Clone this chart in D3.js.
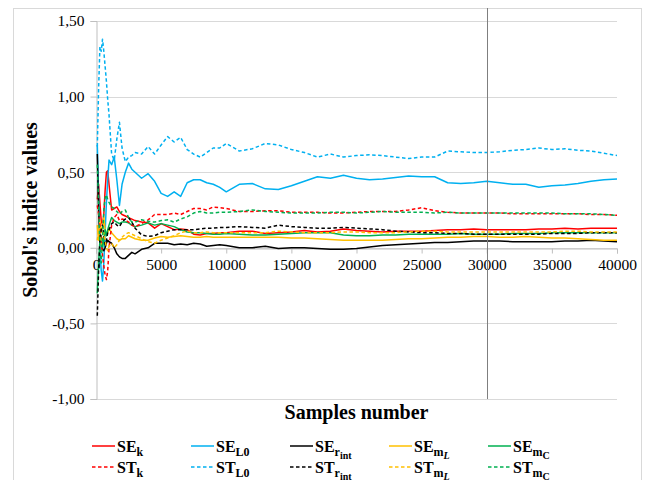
<!DOCTYPE html>
<html>
<head>
<meta charset="utf-8">
<script src="https://cdn.jsdelivr.net/npm/d3@7"></script>
<style>
  body { margin: 0; background: #fff; }
  svg { display: block; }
  svg text { font-family: "Liberation Serif", "Times New Roman", serif; }
</style>
</head>
<body>
<script>
// samples number (x values)
var samples = [100,200,300,400,500,600,700,800,900,1000,1200,1400,1600,1800,2000,2250,2500,2750,3000,
  3500,4000,4500,5000,5500,6000,6500,7000,7500,8000,8500,9000,9500,10000,
  11000,12000,13000,14000,15000,16000,17000,18000,19000,20000,21000,22000,23000,24000,25000,
  26000,27000,28000,29000,30000,31000,32000,33000,34000,35000,36000,37000,38000,39000,40000];

// first order indices (SE)
var seK = [0.32,0.42,0.30,0.18,0.15,0.22,0.38,0.50,0.51,0.42,0.25,0.26,0.27,0.24,0.22,0.21,0.20,0.19,0.18,
  0.17,0.165,0.13,0.16,0.14,0.12,0.125,0.12,0.09,0.085,0.095,0.095,0.10,0.10,
  0.11,0.11,0.095,0.10,0.105,0.115,0.105,0.11,0.125,0.115,0.11,0.105,0.11,0.11,0.11,
  0.115,0.12,0.12,0.125,0.12,0.12,0.12,0.12,0.125,0.125,0.13,0.125,0.13,0.13,0.13];
var seL0 = [0.68,0.35,0.0,-0.15,-0.22,-0.10,0.10,0.30,0.45,0.58,0.55,0.60,0.45,0.28,0.42,0.50,0.56,0.52,0.50,
  0.46,0.49,0.44,0.36,0.34,0.37,0.34,0.43,0.45,0.45,0.43,0.42,0.40,0.37,
  0.42,0.425,0.39,0.385,0.41,0.44,0.47,0.46,0.48,0.46,0.45,0.455,0.465,0.475,0.47,
  0.47,0.43,0.425,0.43,0.44,0.43,0.42,0.42,0.40,0.41,0.415,0.425,0.44,0.45,0.455];
var seRint = [0.62,0.25,0.05,0.05,-0.01,-0.02,0.0,0.03,0.05,0.04,0.03,0.0,-0.04,-0.06,-0.07,-0.07,-0.05,-0.03,-0.04,
  -0.01,0.0,0.03,0.03,0.03,0.02,0.025,0.02,0.03,0.025,0.01,0.015,0.02,0.015,
  0.0,0.0,0.01,-0.005,0.0,0.0,-0.005,-0.01,-0.01,-0.005,0.005,0.015,0.02,0.025,0.03,
  0.035,0.035,0.04,0.045,0.045,0.045,0.04,0.04,0.04,0.04,0.045,0.045,0.05,0.045,0.04];
var seML = [0.15,0.05,0.18,0.10,0.14,0.20,0.12,0.08,0.10,0.13,0.10,0.08,0.06,0.05,0.06,0.06,0.08,0.07,0.06,
  0.05,0.05,0.065,0.075,0.07,0.075,0.08,0.075,0.07,0.07,0.075,0.07,0.07,0.07,
  0.07,0.07,0.07,0.07,0.065,0.065,0.06,0.055,0.05,0.05,0.05,0.05,0.055,0.06,0.06,
  0.065,0.07,0.07,0.075,0.075,0.07,0.07,0.075,0.07,0.065,0.065,0.06,0.055,0.05,0.05];
var seMC = [-0.30,-0.10,0.05,0.08,0.0,0.05,0.12,0.08,0.12,0.15,0.20,0.18,0.17,0.16,0.17,0.17,0.165,0.15,0.14,
  0.15,0.165,0.15,0.16,0.15,0.14,0.12,0.105,0.10,0.10,0.095,0.09,0.09,0.095,
  0.09,0.085,0.085,0.09,0.095,0.10,0.10,0.10,0.085,0.08,0.08,0.085,0.085,0.09,0.09,
  0.09,0.09,0.095,0.09,0.09,0.09,0.095,0.095,0.095,0.10,0.10,0.10,0.10,0.10,0.10];

// total indices (ST)
var stK = [0.28,0.22,0.15,0.05,-0.05,-0.12,-0.18,-0.21,-0.15,0.0,0.15,0.20,0.22,0.18,0.19,0.185,0.17,0.15,0.14,
  0.16,0.185,0.22,0.22,0.22,0.23,0.22,0.24,0.26,0.26,0.25,0.27,0.265,0.26,
  0.24,0.24,0.245,0.245,0.235,0.235,0.235,0.23,0.23,0.235,0.24,0.24,0.24,0.25,0.265,
  0.245,0.235,0.23,0.23,0.23,0.23,0.225,0.225,0.225,0.225,0.225,0.225,0.22,0.22,0.215];
var stL0 = [0.67,1.05,1.33,1.30,1.38,1.30,1.20,1.10,0.98,0.88,0.62,0.58,0.72,0.83,0.66,0.57,0.60,0.61,0.63,
  0.62,0.67,0.62,0.68,0.735,0.70,0.73,0.65,0.62,0.60,0.63,0.66,0.66,0.69,
  0.64,0.655,0.69,0.68,0.65,0.63,0.60,0.62,0.60,0.61,0.615,0.61,0.60,0.59,0.60,
  0.60,0.64,0.635,0.63,0.63,0.635,0.645,0.65,0.66,0.65,0.655,0.645,0.64,0.625,0.61];
var stRint = [-0.45,-0.15,0.05,0.12,0.15,0.08,0.02,0.05,0.10,0.12,0.16,0.17,0.15,0.14,0.17,0.19,0.20,0.17,0.13,
  0.085,0.075,0.08,0.10,0.11,0.12,0.12,0.12,0.12,0.125,0.13,0.13,0.135,0.135,
  0.14,0.135,0.13,0.15,0.14,0.135,0.13,0.13,0.135,0.13,0.125,0.12,0.11,0.105,0.10,
  0.10,0.095,0.095,0.09,0.09,0.09,0.09,0.09,0.09,0.095,0.095,0.095,0.10,0.10,0.10];
var stML = [0.05,0.12,0.08,0.02,0.06,0.10,0.05,0.0,-0.02,0.01,0.03,0.0,0.02,0.05,0.07,0.09,0.10,0.09,0.08,
  0.06,0.04,0.03,0.05,0.065,0.08,0.10,0.11,0.10,0.10,0.105,0.10,0.10,0.10,
  0.10,0.10,0.10,0.11,0.105,0.10,0.10,0.10,0.105,0.105,0.10,0.10,0.10,0.105,0.11,
  0.11,0.105,0.105,0.105,0.105,0.105,0.105,0.105,0.105,0.105,0.11,0.11,0.105,0.105,0.105];
var stMC = [0.55,0.30,0.0,-0.10,0.05,0.25,0.33,0.35,0.32,0.30,0.27,0.26,0.24,0.22,0.24,0.25,0.20,0.17,0.17,
  0.185,0.175,0.17,0.18,0.185,0.17,0.19,0.205,0.23,0.24,0.23,0.23,0.235,0.235,
  0.24,0.25,0.24,0.235,0.23,0.23,0.23,0.235,0.235,0.23,0.235,0.24,0.235,0.235,0.235,
  0.23,0.235,0.23,0.23,0.23,0.23,0.23,0.23,0.23,0.23,0.225,0.225,0.225,0.22,0.215];

// tick values
var yTicks = [-1, -0.5, 0, 0.5, 1, 1.5];
var xTicks = [0, 5000, 10000, 15000, 20000, 25000, 30000, 35000, 40000];
var markerSample = 30000;

// legend labels: base text and subscripts (level 1 = subscript, level 2 = sub-subscript)
var subK   = [["k", 1]];
var subL0  = [["L", 1], ["0", 1]];
var subRint = [["r", 1], ["int", 2]];
var subML  = [["m", 1], ["L", 2, "italic"]];
var subMC  = [["m", 1], ["C", 2]];

var series = [
  {base: "SE", sub: subK,    values: seK,    color: "#FF0000", dashed: false},
  {base: "SE", sub: subL0,   values: seL0,   color: "#00B0F0", dashed: false},
  {base: "SE", sub: subRint, values: seRint, color: "#000000", dashed: false},
  {base: "SE", sub: subML,   values: seML,   color: "#FFC000", dashed: false},
  {base: "SE", sub: subMC,   values: seMC,   color: "#00B050", dashed: false},
  {base: "ST", sub: subK,    values: stK,    color: "#FF0000", dashed: true},
  {base: "ST", sub: subL0,   values: stL0,   color: "#00B0F0", dashed: true},
  {base: "ST", sub: subRint, values: stRint, color: "#000000", dashed: true},
  {base: "ST", sub: subML,   values: stML,   color: "#FFC000", dashed: true},
  {base: "ST", sub: subMC,   values: stMC,   color: "#00B050", dashed: true}
];

var serif = "'Liberation Serif', 'Times New Roman', serif";

var svg = d3.select("body").append("svg").attr("width", 646).attr("height", 480);

// outer chart frame
svg.append("rect")
    .attr("x", 13.5).attr("y", 8.5).attr("width", 628).attr("height", 480)
    .attr("fill", "none").attr("stroke", "#d9d9d9");

var x = d3.scaleLinear().domain([0, 40000]).range([96, 617]);
var y = d3.scaleLinear().domain([-1, 1.5]).range([399, 21]);

// horizontal gridlines
svg.append("g")
  .selectAll("line")
  .data(yTicks)
  .enter().append("line")
    .attr("x1", x(0)).attr("x2", x(40000))
    .attr("y1", function(d) { return Math.round(y(d)) + 0.5; })
    .attr("y2", function(d) { return Math.round(y(d)) + 0.5; })
    .attr("stroke", "#d9d9d9").attr("stroke-width", 1);

// y axis
var yAxis = svg.append("g")
    .attr("transform", "translate(" + (x(0) + 0.5) + ",0)")
    .call(d3.axisLeft(y).tickValues(yTicks).tickSize(6).tickPadding(6)
      .tickFormat(function(d) { return d.toFixed(2).replace(".", ","); }));
yAxis.attr("font-family", serif).attr("font-size", 15);
yAxis.selectAll("text").style("font-family", serif).style("font-size", "15.5px").attr("fill", "#000");
yAxis.selectAll("line").attr("stroke", "#bfbfbf");
yAxis.select(".domain").attr("stroke", "#bfbfbf");

// x axis crossing at 0
var xAxis = svg.append("g")
    .attr("transform", "translate(0," + (Math.round(y(0)) + 0.5) + ")")
    .call(d3.axisBottom(x).tickValues(xTicks).tickSize(5).tickPadding(5)
      .tickFormat(function(d) { return String(d); }));
xAxis.attr("font-family", serif).attr("font-size", 15);
xAxis.selectAll("text").style("font-family", serif).style("font-size", "15.5px").attr("fill", "#000");
xAxis.selectAll("line").attr("stroke", "#bfbfbf");
xAxis.select(".domain").attr("stroke", "#bfbfbf");

// series lines
var line = d3.line()
    .x(function(d) { return x(d[0]); })
    .y(function(d) { return y(d[1]); });

series.forEach(function(s) {
  svg.append("path")
      .datum(samples.map(function(v, i) { return [v, s.values[i]]; }))
      .attr("fill", "none")
      .attr("stroke", s.color)
      .attr("stroke-width", 1.5)
      .attr("stroke-linejoin", "round")
      .attr("stroke-dasharray", s.dashed ? "3.5,2.5" : null)
      .attr("d", line);
});

// vertical marker at 30000
svg.append("line")
    .attr("x1", Math.round(x(markerSample)) + 0.5).attr("x2", Math.round(x(markerSample)) + 0.5)
    .attr("y1", 8).attr("y2", 399)
    .attr("stroke", "#7f7f7f").attr("stroke-width", 1);

// axis titles
svg.append("text")
    .attr("x", x(20000)).attr("y", 419)
    .attr("text-anchor", "middle")
    .style("font-family", serif)
    .style("font-size", "20px").style("font-weight", "bold")
    .text("Samples number");

svg.append("text")
    .attr("transform", "translate(37,210) rotate(-90)")
    .attr("text-anchor", "middle")
    .style("font-family", serif)
    .style("font-size", "20px").style("font-weight", "bold")
    .text("Sobol's indice values");

// legend
var legendX = [92, 191, 290, 389, 488];
var legendY = [446, 467];
var shift = [0, 4, 7];
var fontSize = [16, 12, 10];

series.forEach(function(s, i) {
  var lx = legendX[i % 5], ly = legendY[Math.floor(i / 5)];
  svg.append("line")
      .attr("x1", lx).attr("x2", lx + 23)
      .attr("y1", ly).attr("y2", ly)
      .attr("stroke", s.color).attr("stroke-width", 1.5)
      .attr("stroke-dasharray", s.dashed ? "3.5,2.5" : null);
  var t = svg.append("text")
      .attr("x", lx + 25).attr("y", ly + 5.5)
      .style("font-family", serif)
      .style("font-weight", "bold");
  t.append("tspan").style("font-size", fontSize[0] + "px").text(s.base);
  var prev = 0;
  s.sub.forEach(function(p) {
    t.append("tspan")
        .attr("dy", shift[p[1]] - shift[prev])
        .style("font-size", fontSize[p[1]] + "px")
        .style("font-style", p[2] || null)
        .text(p[0]);
    prev = p[1];
  });
});
</script>
</body>
</html>
